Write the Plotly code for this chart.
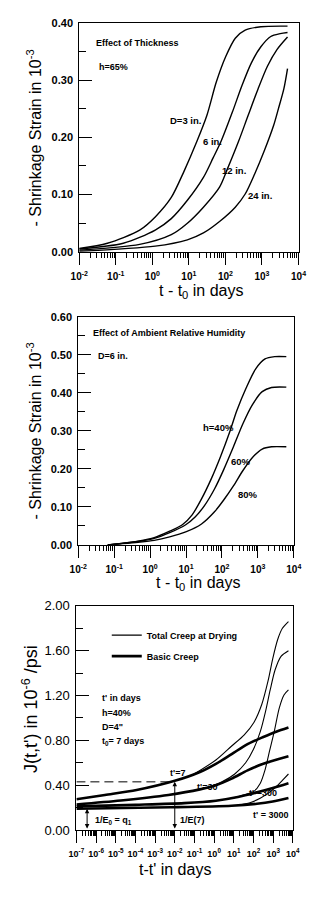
import math
import plotly.graph_objects as go

# ---------------- Panel 1: effect of thickness (h = 65%) ----------------
t_d3 = [0.01, 0.059, 0.45, 1.2, 3.3, 7.4, 16.6, 31, 56, 102, 186, 347, 933, 5000]
s_d3 = [0.006, 0.015, 0.038, 0.061, 0.095, 0.141, 0.193, 0.238, 0.296, 0.341, 0.373, 0.387, 0.393, 0.394]
t_d6 = [0.01, 0.16, 1.2, 3.3, 9.1, 25, 46, 76, 155, 282, 513, 933, 1740, 3160, 5000]
s_d6 = [0.005, 0.015, 0.038, 0.058, 0.090, 0.130, 0.164, 0.193, 0.244, 0.290, 0.330, 0.358, 0.376, 0.381, 0.383]
t_d12 = [0.01, 0.45, 3.3, 9.1, 25, 69, 112, 229, 417, 776, 1410, 2570, 5000]
s_d12 = [0.003, 0.013, 0.030, 0.050, 0.078, 0.113, 0.144, 0.193, 0.238, 0.284, 0.324, 0.353, 0.375]
t_d24 = [0.01, 1.2, 9.1, 25, 69, 186, 347, 631, 1150, 2090, 2820, 3980, 5000]
s_d24 = [0.001, 0.010, 0.021, 0.033, 0.053, 0.078, 0.101, 0.136, 0.176, 0.221, 0.250, 0.285, 0.320]

# ---------------- Panel 2: effect of ambient humidity (D = 6 in.) ----------------
t_h40 = [0.066, 0.16, 0.46, 1.3, 3.5, 7.9, 14.8, 27, 50, 91, 170, 257, 468, 871, 1585, 2950, 6200]
s_h40 = [0.0, 0.004, 0.010, 0.019, 0.036, 0.053, 0.079, 0.121, 0.173, 0.232, 0.301, 0.352, 0.412, 0.463, 0.489, 0.495, 0.495]
t_h60 = [0.066, 0.16, 0.46, 1.3, 3.5, 9.8, 18.2, 33, 62, 112, 209, 380, 708, 1320, 2400, 6200]
s_h60 = [0.0, 0.004, 0.009, 0.017, 0.032, 0.053, 0.074, 0.104, 0.147, 0.198, 0.258, 0.318, 0.369, 0.403, 0.414, 0.415]
t_h80 = [0.066, 0.16, 0.46, 1.3, 3.5, 9.8, 27, 62, 112, 209, 380, 708, 1320, 2400, 6200]
s_h80 = [0.0, 0.003, 0.007, 0.012, 0.021, 0.034, 0.055, 0.087, 0.118, 0.155, 0.195, 0.230, 0.252, 0.258, 0.258]

# ---------------- Panel 3: compliance J(t,t') ----------------
# basic creep (thick)
t_b7 = [1e-7, 2.8e-6, 1.15e-4, 0.01, 0.19, 1.23, 7.8, 50, 316, 1410, 6000]
j_b7 = [0.275, 0.313, 0.357, 0.439, 0.518, 0.591, 0.678, 0.766, 0.830, 0.877, 0.915]
t_b30 = [1e-7, 1.8e-5, 4.7e-3, 0.19, 1.23, 7.8, 50, 316, 6000]
j_b30 = [0.228, 0.263, 0.313, 0.363, 0.400, 0.459, 0.532, 0.591, 0.658]
t_b300 = [1e-7, 1e-4, 0.03, 1.23, 16, 150, 955, 6000]
j_b300 = [0.211, 0.225, 0.240, 0.262, 0.295, 0.336, 0.375, 0.418]
t_b3000 = [1e-7, 6.3e-3, 7.8, 150, 955, 6000]
j_b3000 = [0.190, 0.203, 0.217, 0.234, 0.254, 0.285]
# total creep at drying (thin)
t_d7c = [0.091, 1.23, 7.8, 34, 105, 263, 550, 955, 1700, 2950, 6000]
j_d7c = [0.497, 0.625, 0.75, 0.85, 0.96, 1.12, 1.33, 1.53, 1.70, 1.80, 1.86]
t_d30c = [0.32, 2.5, 11.2, 40, 100, 224, 400, 708, 1260, 2510, 6000]
j_d30c = [0.372, 0.43, 0.50, 0.60, 0.72, 0.88, 1.05, 1.25, 1.43, 1.55, 1.60]
t_d300c = [7.8, 34, 105, 219, 380, 661, 1150, 2040, 3550, 6000]
j_d300c = [0.282, 0.315, 0.345, 0.415, 0.532, 0.708, 0.883, 1.088, 1.205, 1.25]
t_d3000c = [23, 72, 219, 550, 1410, 2950, 6000]
j_d3000c = [0.226, 0.246, 0.284, 0.327, 0.386, 0.444, 0.50]

# reference levels (1/E(7) dashed level, 1/E0 = q1) and their times
e7_time = [1e-7, 1e-2]
e7_level = [0.43, 0.43]
arrow_times = [3.5e-7, 1e-2]
arrow_levels = [0.19, 0.43]

# tick labels
x12_ticks = [1e-2, 1e-1, 1e0, 1e1, 1e2, 1e3, 1e4]
x12_text = ["10<sup>-2</sup>", "10<sup>-1</sup>", "10<sup>0</sup>", "10<sup>1</sup>",
            "10<sup>2</sup>", "10<sup>3</sup>", "10<sup>4</sup>"]
x3_ticks = [1e-7, 1e-6, 1e-5, 1e-4, 1e-3, 1e-2, 1e-1, 1e0, 1e1, 1e2, 1e3, 1e4]
x3_text = ["10<sup>-7</sup>", "10<sup>-6</sup>", "10<sup>-5</sup>", "10<sup>-4</sup>",
           "10<sup>-3</sup>", "10<sup>-2</sup>", "10<sup>-1</sup>", "10<sup>0</sup>",
           "10<sup>1</sup>", "10<sup>2</sup>", "10<sup>3</sup>", "10<sup>4</sup>"]

W, H = 335, 900
FONT = "Liberation Sans, Arial, sans-serif"


def px(x):
    return x / W


def py(y):
    return 1 - y / H


def minor_vals(lo, hi):
    return [k * 10.0 ** e for e in range(lo, hi) for k in range(2, 10)]


fig = go.Figure()

thin = dict(color="black", width=1.4)
for t, s in [(t_d3, s_d3), (t_d6, s_d6), (t_d12, s_d12), (t_d24, s_d24)]:
    fig.add_trace(go.Scatter(x=t, y=s, mode="lines", line=dict(shape="spline", smoothing=0.8, **thin),
                             xaxis="x", yaxis="y", showlegend=False, hoverinfo="skip"))
for t, s in [(t_h40, s_h40), (t_h60, s_h60), (t_h80, s_h80)]:
    fig.add_trace(go.Scatter(x=t, y=s, mode="lines", line=dict(shape="spline", smoothing=0.8, **thin),
                             xaxis="x2", yaxis="y2", showlegend=False, hoverinfo="skip"))

# panel 3 - basic creep (thick)
for i, (t, j) in enumerate([(t_b7, j_b7), (t_b30, j_b30), (t_b300, j_b300), (t_b3000, j_b3000)]):
    fig.add_trace(go.Scatter(x=t, y=j, mode="lines",
                             line=dict(color="black", width=2.6, shape="spline", smoothing=0.8),
                             xaxis="x3", yaxis="y3", name="Basic Creep", legendgroup="b",
                             legendrank=2, showlegend=(i == 0), hoverinfo="skip"))
# panel 3 - total creep at drying (thin)
for i, (t, j) in enumerate([(t_d7c, j_d7c), (t_d30c, j_d30c), (t_d300c, j_d300c), (t_d3000c, j_d3000c)]):
    fig.add_trace(go.Scatter(x=t, y=j, mode="lines",
                             line=dict(color="black", width=1.1, shape="spline", smoothing=0.8),
                             xaxis="x3", yaxis="y3", name="Total Creep at Drying", legendgroup="a",
                             legendrank=1, showlegend=(i == 0), hoverinfo="skip"))
# dashed reference level
fig.add_trace(go.Scatter(x=e7_time, y=e7_level, mode="lines",
                         line=dict(color="black", width=1, dash="9px,5px"),
                         xaxis="x3", yaxis="y3", showlegend=False, hoverinfo="skip"))

tickc = dict(tickcolor="black", tickwidth=1)


def xax(domain, anchor, lo, hi, vals, text, fs):
    return dict(type="log", range=[lo, hi], domain=domain, anchor=anchor,
                showline=True, mirror=True, linecolor="black", linewidth=1,
                showgrid=False, zeroline=False, ticks="outside", ticklen=12, **tickc,
                tickmode="array", tickvals=vals, ticktext=text, ticklabelstandoff=3,
                tickfont=dict(family=FONT, size=fs, color="black", weight="bold"),
                minor=dict(ticks="outside", ticklen=5, tickcolor="black", tickwidth=1,
                           tickmode="array", tickvals=minor_vals(lo, hi), showgrid=False))


def yax(domain, anchor, hi, dt, mdt, fs, bold):
    return dict(range=[0, hi], domain=domain, anchor=anchor,
                showline=True, mirror=True, linecolor="black", linewidth=1,
                showgrid=False, zeroline=False, ticks="inside", ticklen=13, **tickc,
                tick0=0, dtick=dt, tickformat=".2f", ticklabelstandoff=3,
                tickfont=dict(family=FONT, size=fs, color="black", weight="bold" if bold else "normal"),
                minor=dict(ticks="inside", ticklen=7, tickcolor="black", tickwidth=1, dtick=mdt,
                           showgrid=False))


fig.update_layout(
    width=W, height=H, autosize=False,
    margin=dict(l=0, r=0, t=0, b=0),
    paper_bgcolor="white", plot_bgcolor="white",
    font=dict(family=FONT, color="black"),
    xaxis=xax([px(74), px(305)], "y", -2, 4, x12_ticks, x12_text, 10),
    yaxis=yax([py(249), py(16)], "x", 0.4, 0.1, 0.05, 11, True),
    xaxis2=xax([px(73), px(300)], "y2", -2, 4, x12_ticks, x12_text, 10),
    yaxis2=yax([py(547), py(315)], "x2", 0.6, 0.1, 0.05, 11, True),
    xaxis3=xax([px(71), px(299)], "y3", -7, 4, x3_ticks, x3_text, 9),
    yaxis3=yax([py(837), py(609)], "x3", 2.0, 0.4, 0.2, 13, False),
    legend=dict(x=px(103), y=py(624), xanchor="left", yanchor="top",
                bgcolor="rgba(0,0,0,0)", borderwidth=0, traceorder="grouped",
                tracegroupgap=2, itemwidth=30,
                font=dict(family=FONT, size=9, color="black", weight="bold")),
)

ann = []


def label(text, X, Y, size=9, bold=True, xanchor="left", angle=0):
    ann.append(dict(text=text, x=px(X), y=py(Y), xref="paper", yref="paper",
                    xanchor=xanchor, yanchor="middle", showarrow=False, textangle=angle,
                    font=dict(family=FONT, size=size, color="black",
                              weight="bold" if bold else "normal")))


# axis titles
label("- Shrinkage Strain in 10<sup>-3</sup>", 26, 133, 16, False, "center", -90)
label("t - t<sub>0</sub> in days", 202, 289, 16, False, "center")
label("- Shrinkage Strain in 10<sup>-3</sup>", 26, 431, 16, False, "center", -90)
label("t - t<sub>0</sub> in days", 199, 586, 16, False, "center")
label("J(t,t') in 10<sup>-6</sup> /psi", 22, 714, 18, False, "center", -90)
label("t-t' in days", 175, 877, 16, False, "center")

# panel 1 texts
label("Effect of Thickness", 90, 37)
label("h=65%", 93, 61)
label("D=3 in.", 167, 115, 9.5)
label("6 in.", 202, 137, 9.5)
label("12 in.", 222, 166, 9.5)
label("24 in.", 250, 192, 9.5)
# panel 2 texts
label("Effect of Ambient Relative Humidity", 86, 332)
label("D=6 in.", 92, 355)
label("h=40%", 202, 428, 9.5)
label("60%", 232, 462, 9.5)
label("80%", 239, 496, 9.5)
# panel 3 texts
label("t' in days", 96, 703)
label("h=40%", 96, 718)
label("D=4\"", 96, 732)
label("t<sub>0</sub>= 7 days", 96, 747)
label("t'=7", 168, 779)
label("t'=30", 196, 793)
label("t' =300", 251, 799)
label("t' = 3000", 255, 822)
label("1/E<sub>0</sub> = q<sub>1</sub>", 88, 827)
label("1/E(7)", 178, 827)

# double-headed arrows for 1/E0 and 1/E(7)
for tt, lv in zip(arrow_times, arrow_levels):
    ann.append(dict(x=math.log10(tt), y=lv, ax=math.log10(tt), ay=0,
                    xref="x3", yref="y3", axref="x3", ayref="y3", text="",
                    showarrow=True, arrowhead=2, arrowside="end+start",
                    arrowsize=0.9, arrowwidth=1, arrowcolor="black"))

fig.update_layout(annotations=ann)
fig.write_html("out.html")
